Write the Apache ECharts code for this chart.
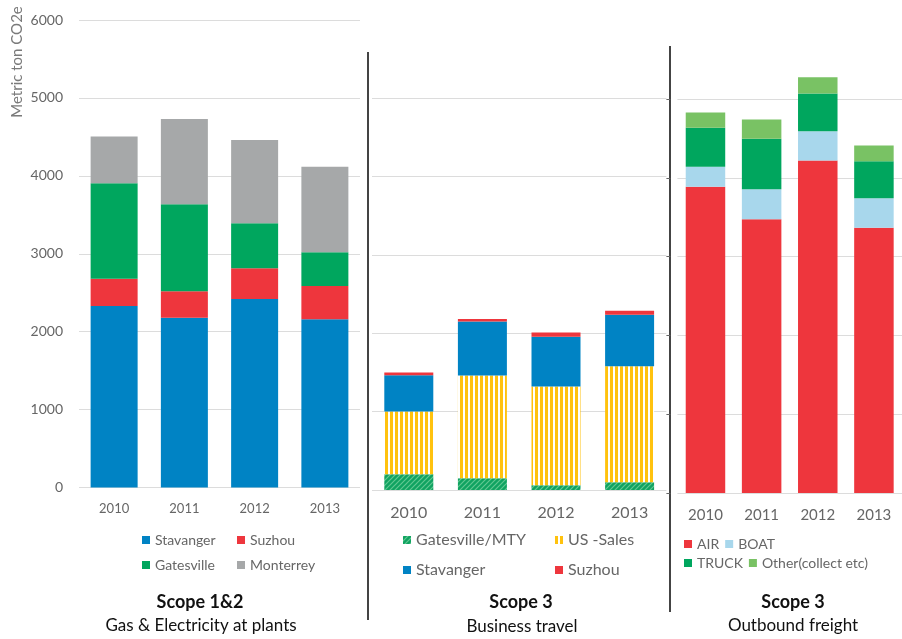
<!DOCTYPE html>
<html>
<head>
<meta charset="utf-8">
<script src="https://cdn.jsdelivr.net/npm/echarts@6/dist/echarts.min.js"></script>
<style>html,body{margin:0;padding:0;background:#fff;}#c{width:902px;height:639px;}</style>
</head>
<body>
<div id="c"></div>
<script>
// ---- data ----
const years = ['2010', '2011', '2012', '2013'];
// Scope 1&2 – Gas & Electricity at plants
const s12Stavanger = [2330, 2180, 2420, 2160];
const s12Suzhou = [350, 340, 395, 425];
const s12Gatesville = [1225, 1115, 575, 435];
const s12Monterrey = [600, 1095, 1070, 1095];
// Scope 3 – Business travel
const btGatesville = [200, 150, 60, 100];
const btUSSales = [800, 1310, 1260, 1480];
const btStavanger = [465, 690, 635, 655];
const btSuzhou = [35, 30, 55, 50];
// Scope 3 – Outbound freight
const ofAir = [3885, 3475, 4220, 3365];
const ofBoat = [255, 380, 370, 375];
const ofTruck = [495, 640, 480, 470];
const ofOther = [195, 245, 205, 200];

const FONT = 'Lato, "Open Sans", sans-serif';
const C = {
  blue: '#0083C4', red: '#EE363D', green: '#00A65E', gray: '#A6A8A9',
  lblue: '#A8D7EC', lgreen: '#79C264', yellow: '#FFC20E', grid: '#DCDCDC', text: '#666666'
};

function stripePattern() {
  const cv = document.createElement('canvas');
  cv.width = 5; cv.height = 10;
  const g = cv.getContext('2d');
  g.fillStyle = '#ffffff'; g.fillRect(0, 0, 5, 10);
  g.fillStyle = C.yellow; g.fillRect(0, 0, 3, 10);
  return { image: cv, repeat: 'repeat' };
}
function hatchPattern() {
  const s = 5;
  const cv = document.createElement('canvas');
  cv.width = s; cv.height = s;
  const g = cv.getContext('2d');
  g.fillStyle = '#10A361'; g.fillRect(0, 0, s, s);
  g.strokeStyle = '#62C892'; g.lineWidth = 1.2;
  g.beginPath();
  g.moveTo(0, s); g.lineTo(s, 0);
  g.moveTo(-1, 1); g.lineTo(1, -1);
  g.moveTo(s - 1, s + 1); g.lineTo(s + 1, s - 1);
  g.stroke();
  return { image: cv, repeat: 'repeat' };
}

const chart = echarts.init(document.getElementById('c'), null, { renderer: 'canvas' });

function xAx(gi, fs) {
  return {
    gridIndex: gi, type: 'category', data: years,
    axisLine: { show: false }, axisTick: { show: false },
    axisLabel: { fontFamily: FONT, fontSize: fs, color: C.text, margin: 15 }
  };
}
function yAx(gi, max, showLabel, extra) {
  return Object.assign({
    gridIndex: gi, type: 'value', min: 0, max: max, interval: 1000,
    axisLine: { show: false }, axisTick: { show: false },
    axisLabel: { show: showLabel, fontFamily: FONT, fontSize: 14, color: C.text, margin: 16,
      formatter: function (v) { return String(v); } },
    splitLine: { lineStyle: { color: C.grid, width: 1 } }
  }, extra || {});
}
function bar(name, data, gi, stack, color, bw) {
  return {
    name: name, type: 'bar', data: data, xAxisIndex: gi, yAxisIndex: gi,
    stack: stack, barWidth: bw, itemStyle: { color: color }, clip: false,
    emphasis: { disabled: true }
  };
}
function legend(items, left, top, fs, orient, gap) {
  return {
    data: items, left: left, top: top, orient: orient, itemGap: gap,
    itemWidth: 8, itemHeight: 8, icon: 'rect', selectedMode: false,
    textStyle: { fontFamily: FONT, fontSize: fs, color: C.text }
  };
}
function label(text, x, y, size, bold) {
  return {
    type: 'text', x: x, y: y,
    style: { text: text, fill: '#111', textAlign: 'center', textVerticalAlign: 'middle',
      font: (bold ? 'bold ' : '') + size + 'px ' + FONT }
  };
}
function vline(x, y1, y2) {
  return { type: 'line', shape: { x1: x, y1: y1, x2: x, y2: y2 }, style: { stroke: '#444', lineWidth: 2 } };
}

chart.setOption({
  animation: false,
  grid: [
    { left: 79, top: 20, width: 281, height: 467.5 },
    { left: 372, top: 98, width: 294.4, height: 392 },
    { left: 677.4, top: 99, width: 231, height: 394 }
  ],
  xAxis: [xAx(0, 13), xAx(1, 16), xAx(2, 15)],
  yAxis: [
    yAx(0, 6000, true),
    yAx(1, 5000, false),
    yAx(2, 5000, false, { offset: 7, axisTick: { show: true, length: 4, inside: false, lineStyle: { color: '#666' } } })
  ],
  legend: [
    legend(['Stavanger', 'Gatesville'], 137, 528, 14, 'vertical', 11),
    legend(['Suzhou', 'Monterrey'], 232, 528, 14, 'vertical', 11),
    legend(['Gatesville/MTY', 'Stavanger '], 398, 527, 16, 'vertical', 14),
    legend(['US -Sales', 'Suzhou '], 550, 527, 16, 'vertical', 14),
    legend(['AIR', 'BOAT'], 679, 532, 14, 'horizontal', 6),
    legend(['TRUCK', 'Other(collect etc)'], 679, 551, 14, 'horizontal', 6)
  ],
  series: [
    bar('Stavanger', s12Stavanger, 0, 'a', C.blue, 47),
    bar('Suzhou', s12Suzhou, 0, 'a', C.red, 47),
    bar('Gatesville', s12Gatesville, 0, 'a', C.green, 47),
    bar('Monterrey', s12Monterrey, 0, 'a', C.gray, 47),
    bar('Gatesville/MTY', btGatesville, 1, 'b', hatchPattern(), 49),
    bar('US -Sales', btUSSales, 1, 'b', stripePattern(), 49),
    bar('Stavanger ', btStavanger, 1, 'b', C.blue, 49),
    bar('Suzhou ', btSuzhou, 1, 'b', C.red, 49),
    bar('AIR', ofAir, 2, 'c', C.red, 39.5),
    bar('BOAT', ofBoat, 2, 'c', C.lblue, 39.5),
    bar('TRUCK', ofTruck, 2, 'c', C.green, 39.5),
    bar('Other(collect etc)', ofOther, 2, 'c', C.lgreen, 39.5)
  ],
  graphic: [
    vline(368, 52, 620),
    vline(670, 46, 612),
    {
      type: 'text', x: 17, y: 62, rotation: Math.PI / 2,
      style: { text: 'Metric ton CO2e', fill: '#7a7a7a', textAlign: 'center', textVerticalAlign: 'middle',
        font: '15px ' + FONT }
    },
    label('Scope 1&2', 200, 602, 18, true),
    label('Gas & Electricity at plants', 201, 626, 17, false),
    label('Scope 3', 521, 602, 18, true),
    label('Business travel', 522, 627, 17, false),
    label('Scope 3', 793, 602, 18, true),
    label('Outbound freight', 793, 626, 17, false)
  ]
});
</script>
</body>
</html>
